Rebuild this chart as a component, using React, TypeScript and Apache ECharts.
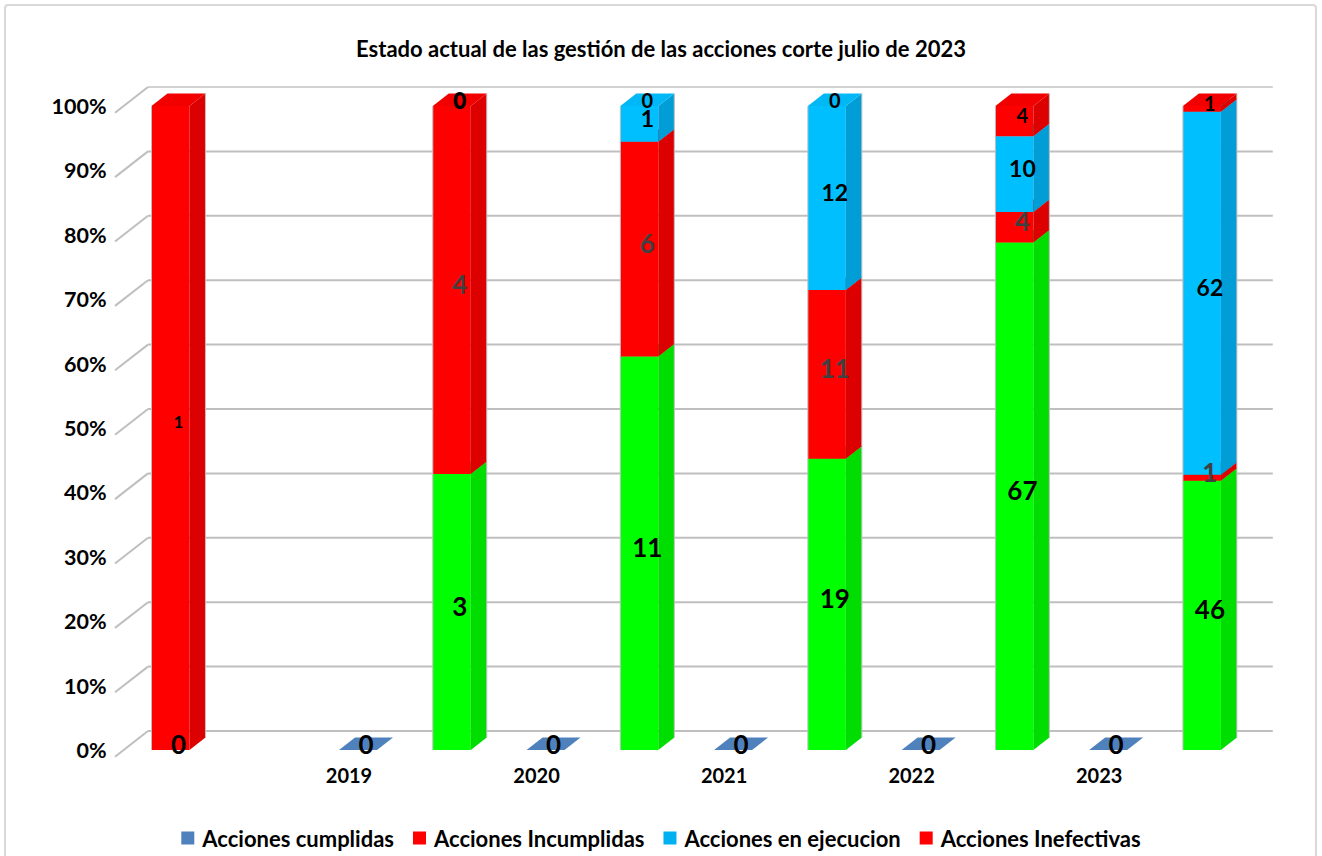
import React, { useEffect, useRef } from "react";
import * as echarts from "echarts";

// ---- data ----
const titleText = "Estado actual de las gestión de las acciones corte julio de 2023";
const categories = ["", "", "2019", "", "2020", "", "2021", "", "2022", "", "2023", ""];
const seriesNames = ["Acciones cumplidas", "Acciones Incumplidas", "Acciones en ejecucion", "Acciones Inefectivas"];
const cumplidas = [0, null, 0, 3, 0, 11, 0, 19, 0, 67, 0, 46];
const incumplidas = [null, null, null, 4, null, 6, null, 11, null, 4, null, 1];
const ejecucion = [null, null, null, 0, null, 1, null, 12, null, 10, null, 62];
const inefectivas = [1, null, null, 0, null, 0, null, 0, null, 4, null, 1];
const yTicks = [0, 10, 20, 30, 40, 50, 60, 70, 80, 90, 100];

const FONT = "Lato, 'Open Sans', sans-serif";
const DX = 16;
const DY = -12.5;

type Style = { front: string; side: string; top: string; legend: string; label: string; size: number };
const styles: Style[] = [
  { front: "#00FF00", side: "#00DD00", top: "#00F000", legend: "#4F81BD", label: "#000000", size: 26 },
  { front: "#FF0000", side: "#DD0000", top: "#F20000", legend: "#FF0000", label: "#404040", size: 26 },
  { front: "#00BFFF", side: "#009DD6", top: "#00B8F5", legend: "#00B0F0", label: "#000000", size: 23 },
  { front: "#FF0000", side: "#DD0000", top: "#F20000", legend: "#FF0000", label: "#000000", size: 20 },
];
const flatColor = "#4F81BD";

function buildStacks() {
  const all = [cumplidas, incumplidas, ejecucion, inefectivas];
  const totals = categories.map((_, i) => all.reduce((s, arr) => s + (arr[i] ?? 0), 0));
  const cum = categories.map(() => 0);
  return all.map((arr) => {
    const out: any[] = [];
    arr.forEach((v, i) => {
      if (v === null || v === undefined) return;
      const tot = totals[i];
      const pct = tot > 0 ? (v / tot) * 100 : 0;
      const b = cum[i];
      const t = b + pct;
      cum[i] = t;
      out.push([i, b, t, v, tot]);
    });
    return out;
  });
}

function makeRender(st: Style, idx: number) {
  return (params: any, api: any) => {
    const i = api.value(0);
    const b = api.value(1);
    const t = api.value(2);
    const v = api.value(3);
    const tot = api.value(4);
    const pb = api.coord([i, b]);
    const pt = api.coord([i, t]);
    const w = api.size([1, 0])[0] * 0.405;
    const x0 = pb[0] - w / 2;
    const x1 = pb[0] + w / 2;
    const yb = pb[1];
    const yt = pt[1];
    const children: any[] = [];
    if (yb - yt > 0.01) {
      children.push({ type: "rect", shape: { x: x0, y: yt, width: w, height: yb - yt }, style: { fill: st.front } });
      children.push({
        type: "polygon",
        shape: { points: [[x1, yb], [x1, yt], [x1 + DX, yt + DY], [x1 + DX, yb + DY]] },
        style: { fill: st.side },
      });
      children.push({
        type: "polygon",
        shape: { points: [[x0, yt], [x0 + DX, yt + DY], [x1 + DX, yt + DY], [x1, yt]] },
        style: { fill: st.top },
      });
      children.push({ type: "line", shape: { x1: x0, y1: yb, x2: x0, y2: yt }, style: { stroke: "#BFBFBF", lineWidth: 1 } });
      children.push({
        type: "line",
        shape: { x1: x1 + DX, y1: yb + DY, x2: x1 + DX, y2: yt + DY },
        style: { stroke: "#BFBFBF", lineWidth: 1 },
      });
    } else if (tot === 0) {
      children.push({
        type: "polygon",
        shape: { points: [[x0, yt], [x0 + DX, yt + DY], [x1 + DX, yt + DY], [x1, yt]] },
        style: { fill: idx === 0 ? flatColor : st.top },
      });
    }
    const smallLone = tot === 1 && idx === 3 && v === 1;
    children.push({
      type: "text",
      x: pb[0] + DX / 2,
      y: (yb + yt) / 2 + DY / 2,
      z2: 100,
      style: {
        text: String(v),
        fill: st.label,
        font: `bold ${smallLone ? 17 : st.size}px ${FONT}`,
        align: "center",
        verticalAlign: "middle",
      },
    });
    return { type: "group", children };
  };
}

export default function App() {
  const ref = useRef<HTMLDivElement>(null);
  useEffect(() => {
    document.body.style.margin = "0";
    if (!ref.current) return;
    const chart = echarts.init(ref.current, null, { renderer: "svg" });
    const stacks = buildStacks();

    const gridSeries = {
      type: "custom",
      name: "grid",
      z: 1,
      silent: true,
      data: yTicks.map((v) => [0, v]),
      encode: { x: 0, y: 1 },
      renderItem: (params: any, api: any) => {
        const cs = params.coordSys;
        const y = api.coord([0, api.value(1)])[1];
        const top = api.value(1) === 100;
        const stroke = top ? "#A6A6A6" : "#BFBFBF";
        const lw = top ? 1 : 2;
        const fx = cs.x - 8.6;
        const bx = cs.x + 24.4;
        const ex = cs.x + cs.width + 24;
        return {
          type: "group",
          children: [
            { type: "line", shape: { x1: fx, y1: y + 6.7, x2: bx, y2: y - 19 }, style: { stroke: "#BFBFBF", lineWidth: 2 } },
            { type: "line", shape: { x1: bx, y1: y - 19, x2: ex, y2: y - 19 }, style: { stroke, lineWidth: lw } },
          ],
        };
      },
    };

    const dataSeries = seriesNames.map((name, idx) => ({
      type: "custom",
      name,
      z: 2,
      itemStyle: { color: styles[idx].legend },
      data: stacks[idx],
      encode: { x: 0, y: [1, 2] },
      renderItem: makeRender(styles[idx], idx),
    }));

    chart.setOption({
      animation: false,
      backgroundColor: "#ffffff",
      title: {
        text: titleText,
        left: "center",
        top: 32,
        textStyle: { fontFamily: FONT, fontSize: 22, fontWeight: "bold", color: "#000000" },
      },
      legend: {
        data: seriesNames,
        left: "center",
        top: 822,
        icon: "rect",
        itemWidth: 13,
        itemHeight: 13,
        itemGap: 19,
        textStyle: { fontFamily: FONT, fontSize: 22, fontWeight: "bold", color: "#000000", padding: [0, 0, 0, 3] },
      },
      grid: { left: 123.6, right: 73.2, top: 106, bottom: 106, containLabel: false },
      xAxis: {
        type: "category",
        data: categories,
        axisLine: { show: false },
        axisTick: { show: false },
        splitLine: { show: false },
        axisLabel: {
          interval: 0,
          margin: 15,
          padding: [0, 18, 0, 0],
          fontFamily: FONT,
          fontSize: 20,
          fontWeight: "bold",
          color: "#000000",
        },
      },
      yAxis: {
        type: "value",
        min: 0,
        max: 100,
        interval: 10,
        axisLine: { show: false },
        axisTick: { show: false },
        splitLine: { show: false },
        axisLabel: {
          formatter: "{value}%",
          margin: 17,
          padding: [13, 0, 0, 0],
          fontFamily: FONT,
          fontSize: 21.5,
          fontWeight: "bold",
          color: "#000000",
        },
      },
      graphic: [
        {
          type: "rect",
          silent: true,
          z: -1,
          shape: { x: 5, y: 5, width: 1311, height: 880, r: 3 },
          style: { fill: "none", stroke: "#D9D9D9", lineWidth: 2 },
        },
      ],
      series: [gridSeries, ...dataSeries],
    });
    return () => chart.dispose();
  }, []);
  return <div ref={ref} style={{ width: 1322, height: 856 }} />;
}
